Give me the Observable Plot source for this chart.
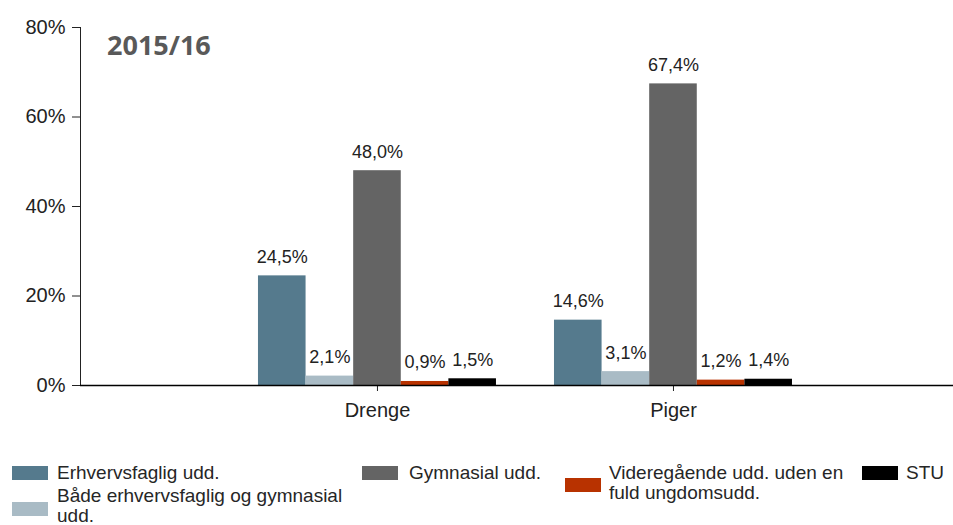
<!DOCTYPE html>
<html>
<head>
<meta charset="utf-8">
<script src="https://cdn.jsdelivr.net/npm/d3@7"></script>
<script src="https://cdn.jsdelivr.net/npm/@observablehq/plot@0.6"></script>
<style>
  body { margin: 0; background: #fff; font-family: "Liberation Sans", Arial, sans-serif; }
  #wrap { position: relative; width: 953px; height: 525px; overflow: hidden; background: #fff; }
  #chart { position: absolute; left: 0; top: 0; }
  #title { position: absolute; left: 107px; top: 26px; font: 700 27px "Open Sans", sans-serif; color: #595959; white-space: nowrap; }
  .li { position: absolute; font-size: 19px; line-height: 20px; color: #262626; }
  .sw { position: absolute; left: 0; width: 36px; height: 14px; }
  .tx { position: absolute; }
</style>
</head>
<body>
<div id="wrap">
  <div id="chart"></div>
  <div id="title"></div>
  <div id="legend"></div>
</div>
<script>
// ---- data ----
const title = "2015/16";
const groups = ["Drenge", "Piger"];
const series = [
  "Erhvervsfaglig udd.",
  "Både erhvervsfaglig og gymnasial udd.",
  "Gymnasial udd.",
  "Videregående udd. uden en fuld ungdomsudd.",
  "STU"
];
const drenge = [24.5, 2.1, 48.0, 0.9, 1.5];
const piger  = [14.6, 3.1, 67.4, 1.2, 1.4];
const colors = ["#557a8d", "#a9bbc5", "#646464", "#b83200", "#000000"];
const yTicks = [0, 20, 40, 60, 80];

// ---- build ----
const rows = series.flatMap((s, i) => [
  {group: groups[0], series: s, i, value: drenge[i]},
  {group: groups[1], series: s, i, value: piger[i]}
]);
const fmt = v => d3.format(".1f")(v).replace(".", ",") + "%";

const groupWidth = 238;              // pixel width of one group of bars
const sub = groupWidth / series.length;
const n = series.length;

const marks = [];
series.forEach((s, i) => {
  const d = rows.filter(r => r.i === i);
  marks.push(Plot.barY(d, {
    x: "group", y: "value", fill: colors[i],
    insetLeft: i * sub, insetRight: (n - 1 - i) * sub
  }));
  marks.push(Plot.text(d, {
    x: "group", y: "value", text: r => fmt(r.value),
    dx: (i - (n - 1) / 2) * sub, dy: -13, lineAnchor: "bottom",
    fontSize: 18, fill: "#222"
  }));
});
marks.push(Plot.ruleY([0], {stroke: "#000", strokeWidth: 1.5}));

const chart = Plot.plot({
  width: 953,
  height: 440,
  marginLeft: 80,
  marginRight: 0,
  marginTop: 27,
  marginBottom: 55,
  style: {fontFamily: "'Liberation Sans', Arial, sans-serif", fontSize: "20px", color: "#222", background: "#fff", overflow: "visible"},
  x: {domain: groups, paddingInner: 0.196, paddingOuter: 0.5726, align: 0.525, round: false, label: null, tickSize: 6, tickPadding: 11},
  y: {domain: [0, 80], ticks: yTicks, tickFormat: d => d + "%", label: null, tickSize: 8, tickPadding: 7, line: true},
  marks
});
document.getElementById("chart").appendChild(chart);
document.getElementById("title").textContent = title;

// ---- legend (layout only) ----
const legendLayout = [
  {sx: 12,  swTop: 466, tx: 57,  top: 463, w: 300},
  {sx: 12,  swTop: 502, tx: 57,  top: 486, w: 292},
  {sx: 362, swTop: 466, tx: 409, top: 463, w: 170},
  {sx: 565, swTop: 478, tx: 609, top: 463, w: 252},
  {sx: 862, swTop: 466, tx: 906, top: 463, w: 45}
];
const legend = document.getElementById("legend");
series.forEach((s, i) => {
  const L = legendLayout[i];
  const item = document.createElement("div");
  item.className = "li";
  item.style.left = L.sx + "px";
  item.style.top = L.top + "px";
  const sw = document.createElement("div");
  sw.className = "sw";
  sw.style.top = (L.swTop - L.top) + "px";
  sw.style.background = colors[i];
  const tx = document.createElement("div");
  tx.className = "tx";
  tx.style.left = (L.tx - L.sx) + "px";
  tx.style.top = "0px";
  tx.style.width = L.w + "px";
  tx.textContent = s;
  item.appendChild(sw);
  item.appendChild(tx);
  legend.appendChild(item);
});
</script>
</body>
</html>
